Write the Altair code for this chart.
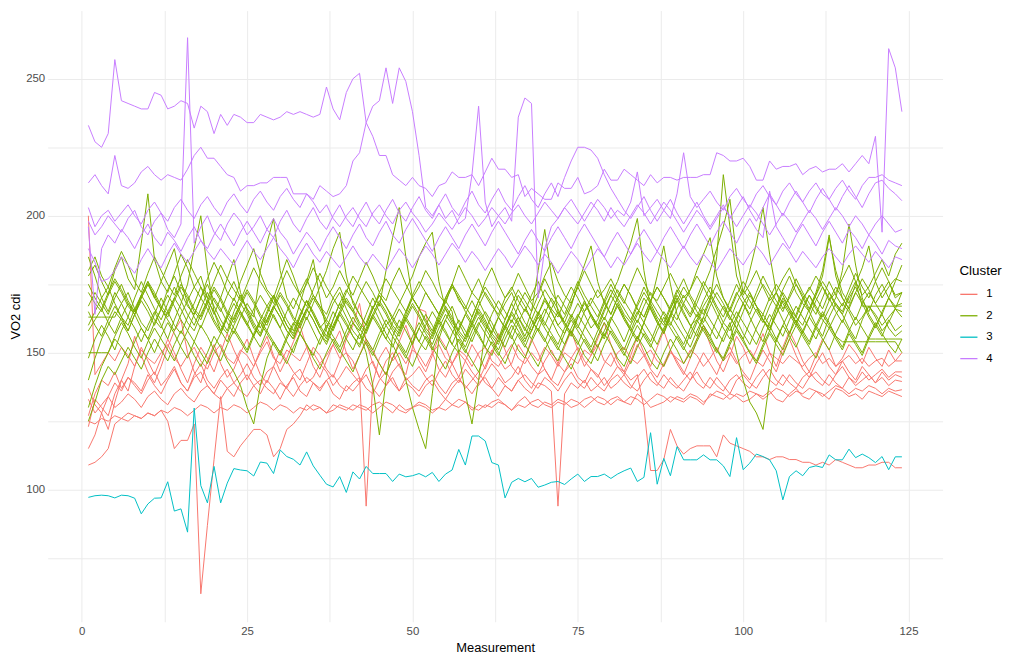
import altair as alt
import pandas as pd

clusters = ["1", "2", "3", "4"]
cluster_colors = ["#F8766D", "#7CAE00", "#00BFC4", "#C77CFF"]
x_grid = [0, 12.5, 25, 37.5, 50, 62.5, 75, 87.5, 100, 112.5, 125]
y_grid = [75, 100, 125, 150, 175, 200, 225, 250]

# ---------------- Cluster 1 (red) ----------------
r1 = [109,110,112,115,124,126,125,127,126,128,
      127,129,125,115,118,118,124,62,87,111,
      134,114,112,116,119,122,122,120,112,115,
      122,124,127,131,129,130,128,131,130,129,
      131,130,129,131,132,130,128,131,129,130,
      132,131,129,130,133,131,130,132,129,131,
      130,132,133,131,129,132,134,131,130,132,
      131,133,132,130,131,133,134,132,131,133,
      134,132,131,135,133,130,131,132,134,133,
      132,134,133,131,135,134,133,135,134,132,
      133,135,134,136,133,132,135,137,134,133,
      136,135,133,137,136,134,135,133,136,135,
      134,136,135,134]
r2 = [137,131,128,134,139,136,141,138,135,140,
      143,138,141,145,139,136,142,146,140,137,
      141,144,139,142,146,141,138,143,145,140,
      137,142,144,139,141,146,143,138,141,145,
      142,139,144,147,141,138,143,146,140,142,
      145,141,138,143,147,142,139,144,141,138,
      142,146,143,139,141,145,140,137,142,144,
      140,138,143,146,141,139,144,142,138,141,
      145,143,140,142,
      130,107,107,111,122,116,113,115,116,116,
      116,112,120,117,116,115,114,112,112,111,
      112,112,111,111,110,110,109,110,109,111,
      110,109,108,108,109,109,110,110,108,108]
r3 = [200,142,146,150,147,152,149,145,151,148,
      146,150,153,148,145,149,152,147,144,150,
      153,148,146,151,149,145,150,154,148,146,
      151,149,147,152,150,146,149,153,148,150,
      147,141,94,139,148,152,147,150,146,151,
      149,145,150,153,148,146,151,149,145,150,
      152,147,145,149,153,148,146,150,147,152,
      149,145,150,148,146,151,149,153,147,145,
      150,152,148,146,149,151,147,145,150,148,
      146,151,149,145,148,152,147,150,146,149,
      151,147,145,150,148,146,149,147,145,148,
      150,146,148,145,147,149,146,148,145,147,
      148,145,147,147]
r4 = [127,135,140,138,143,137,141,139,136,142,
      138,135,140,144,139,136,141,143,138,135,
      140,137,134,139,142,138,135,140,137,133,
      138,141,136,134,139,137,140,135,133,138,
      136,139,142,137,134,138,141,136,139,137,
      134,138,140,136,133,137,140,138,135,139,
      141,137,134,138,136,140,137,135,139,138,
      136,94,135,139,137,140,136,138,141,137,
      139,142,138,136,140,143,139,137,141,138,
      136,140,143,139,137,141,138,135,140,142,
      139,137,141,144,140,138,142,139,137,141,
      143,140,138,142,145,141,139,143,140,142,
      144,141,143,143]
r5 = [123,133,130,127,135,140,146,156,149,143,
      139,145,152,158,162,150,143,139,147,153,
      146,141,144,150,155,148,142,139,145,151,
      147,143,140,146,152,149,144,141,147,155,
      160,168,154,146,141,147,150,145,142,152,
      166,165,150,144,141,146,150,147,143,140,
      145,151,148,144,146,153,149,145,142,147,
      151,146,143,148,152,147,144,141,146,150,
      145,142,147,153,149,144,141,146,151,147,
      143,140,145,150,146,142,148,152,147,143,
      140,146,151,147,143,150,155,149,144,141,
      146,150,145,142,147,143,140,145,142,139,
      143,140,142,141]
r6 = [133,128,131,134,130,132,135,133,130,134,
      136,133,131,135,137,134,132,136,138,135,
      133,137,139,136,134,138,140,137,135,139,
      137,134,138,141,139,136,140,142,138,136,
      139,141,137,135,140,143,139,136,141,138,
      136,140,142,138,135,139,141,137,140,143,
      139,137,141,138,136,140,142,139,137,141,
      139,136,140,143,139,137,141,138,136,140,
      142,139,137,141,144,140,138,142,139,137,
      140,143,139,137,141,138,136,140,142,139,
      137,141,144,140,138,142,139,137,141,143,
      140,138,142,139,137,141,138,140,142,139,
      141,138,140,139.5]
r7 = [125,124,126,125,127,126,128,127,126,128,
      127,129,128,130,129,127,129,131,130,128,
      130,129,131,130,128,130,132,131,129,131,
      130,128,130,129,131,130,128,129,131,130,
      129,131,130,128,130,132,131,129,128,130,
      131,130,128,130,129,131,133,132,130,129,
      131,130,132,131,129,131,130,132,133,131,
      130,132,131,133,132,130,132,134,133,131,
      133,132,134,133,131,133,135,134,132,134,
      133,135,134,132,134,136,135,133,135,134,
      136,135,133,135,137,136,134,136,135,137,
      136,134,136,138,137,135,137,136,138,137,
      135,137,136,136.5]
r8 = [115,120,128,122,132,140,136,145,152,147,
      142,148,155,150,144,139,146,152,148,143,
      150,157,151,146,140,145,151,156,149,143,
      148,154,160,152,145,141,147,153,158,150,
      144,149,155,151,146,142,148,154,160,153,
      147,143,149,156,152,146,141,147,153,149,
      144,150,157,151,145,142,148,155,150,144,
      140,146,152,158,151,145,149,155,161,153,
      147,143,149,156,150,145,152,158,151,146,
      142,148,155,160,153,147,143,149,156,152,
      146,151,157,150,145,152,158,153,147,143,
      149,155,151,145,148,153,150,146,152,148,
      145,151,147,150]

# ---------------- Cluster 2 (green) ----------------
g1 = [178,182,176,171,180,185,177,173,190,208,
      184,176,172,179,186,181,174,170,177,183,
      178,172,169,176,182,188,179,173,170,177,
      184,178,171,175,181,176,170,174,180,175,
      171,177,183,178,172,169,176,181,175,170,
      174,180,176,171,168,175,182,177,172,169,
      176,181,175,170,173,179,174,169,172,178,
      183,176,171,168,174,180,175,170,173,177,
      172,168,175,181,176,171,169,174,179,174,
      170,173,178,174,169,185,215,196,178,171,
      175,180,174,169,172,177,181,175,170,173,
      178,174,169,172,177,182,176,171,174,179,
      184,178,186,190]
g2 = [167,172,168,164,170,175,169,165,171,176,
      170,166,173,178,172,167,164,170,175,169,
      165,171,176,170,166,163,180,190,199,180,
      170,166,172,177,171,167,164,170,174,168,
      165,171,176,172,167,180,192,203,185,170,
      166,172,168,164,170,175,169,166,172,177,
      171,167,164,170,174,169,165,171,176,170,
      166,163,169,174,170,165,168,173,169,164,
      170,175,171,166,163,169,174,170,166,172,
      177,171,167,164,170,175,170,166,172,168,
      164,170,175,171,167,173,178,172,168,165,
      171,176,172,167,164,170,174,169,165,171,
      175,170,176,182]
g3 = [163,163,163,163,163,168,172,166,161,158,
      164,170,165,160,157,163,168,174,168,162,
      158,164,170,165,160,156,162,167,171,165,
      160,157,163,169,164,159,162,168,172,166,
      161,158,164,170,165,160,163,168,173,178,
      185,190,194,176,166,161,158,164,169,164,
      160,157,163,168,172,166,161,158,164,170,
      165,160,163,168,174,169,163,159,165,171,
      176,183,190,199,180,166,161,158,164,169,
      164,160,162,167,171,166,161,158,163,168,
      172,167,162,159,164,169,165,161,166,171,
      166,162,159,164,168,165,160,163,167,164,
      160,163,166,165]
g4 = [148,155,160,156,151,158,163,159,154,160,
      165,160,155,162,168,175,188,200,180,165,
      158,154,160,165,161,156,152,158,164,159,
      154,150,157,163,158,153,159,165,161,155,
      151,157,150,138,120,140,156,162,158,153,
      159,164,160,155,151,157,162,158,154,160,
      165,161,156,152,158,163,159,155,161,166,
      162,157,153,159,164,160,156,152,158,163,
      159,154,160,165,161,157,153,159,164,160,
      156,152,158,163,159,155,161,166,162,157,
      153,159,164,160,155,151,157,162,158,154,
      160,165,161,156,152,158,163,159,155,160,
      164,159,156,158]
g5 = [185,178,170,165,172,168,163,170,176,171,
      166,162,168,174,169,164,160,166,172,167,
      162,158,165,171,166,161,157,164,170,165,
      160,156,163,169,164,159,155,162,168,163,
      158,155,161,167,162,157,153,148,140,130,
      122,115,135,155,162,167,161,156,163,169,
      164,159,155,162,168,163,158,165,180,195,
      178,165,160,156,163,169,164,159,155,162,
      168,163,158,154,161,167,162,157,164,170,
      165,160,156,163,169,164,159,155,162,168,
      163,158,154,161,167,162,157,164,170,165,
      160,156,163,168,164,159,155,162,167,163,
      158,161,166,163]
g6 = [140,148,155,160,165,162,158,164,169,165,
      160,166,171,167,162,158,164,170,166,161,
      157,163,168,164,160,166,171,167,163,159,
      165,170,166,162,168,174,180,188,194,178,
      168,164,160,166,171,167,163,159,165,170,
      166,162,158,164,169,165,150,135,124,140,
      158,164,169,165,161,167,172,168,164,160,
      166,171,167,163,159,165,170,166,162,168,
      173,169,165,161,167,172,168,164,160,166,
      171,167,163,169,174,170,166,162,168,173,
      169,165,161,167,172,168,164,160,166,171,
      167,163,169,174,170,166,162,168,172,168,
      164,170,167,168]
g7 = [130,138,145,150,155,152,148,154,159,155,
      150,156,161,157,152,148,154,160,156,151,
      147,153,158,154,150,156,161,157,153,149,
      155,160,168,176,184,170,158,154,150,156,
      161,157,153,149,155,160,156,152,148,154,
      159,155,151,157,162,158,154,150,156,161,
      157,153,149,155,160,156,152,158,163,159,
      155,151,157,162,158,154,150,156,161,157,
      153,149,155,160,156,152,158,163,159,155,
      151,157,162,158,154,150,156,161,150,140,
      132,128,122,140,155,160,156,152,158,163,
      159,155,151,157,162,158,154,150,156,161,
      157,153,150,155]
g8 = [172,168,165,171,176,172,167,164,170,175,
      171,166,163,169,174,170,165,162,168,173,
      169,164,161,167,172,168,163,160,166,171,
      167,162,159,165,170,166,161,158,164,169,
      165,160,157,163,168,164,159,156,162,167,
      163,158,155,161,166,162,157,154,160,165,
      161,156,153,159,164,160,155,158,164,169,
      165,160,157,163,168,164,159,162,168,173,
      169,164,161,167,172,168,163,160,166,171,
      167,163,168,174,180,188,196,206,185,172,
      180,190,203,186,172,166,170,175,171,166,
      172,180,193,178,170,166,172,177,173,168,
      172,176,171,172]
g9 = [158,162,166,161,157,163,168,164,159,155,
      161,166,162,158,164,169,174,178,170,164,
      170,177,184,172,165,160,156,162,167,163,
      158,155,161,166,162,157,153,159,164,160,
      156,152,158,163,159,155,161,166,162,158,
      154,160,165,161,157,153,159,164,160,156,
      152,158,163,159,155,161,166,162,158,154,
      160,165,161,157,153,159,164,160,156,162,
      167,163,159,155,161,168,178,189,175,164,
      159,155,161,166,162,158,154,160,165,161,
      157,153,159,164,160,156,162,167,163,159,
      155,161,166,170,180,197,182,170,164,160,
      156,162,158,160]
g10 = [175,170,166,172,177,173,168,165,171,176,
       172,167,164,170,175,171,166,163,169,174,
       170,165,162,168,173,169,164,161,167,172,
       168,163,160,166,171,167,162,159,165,170,
       166,161,158,164,169,165,160,157,163,168,
       164,159,156,162,167,163,158,155,161,166,
       162,157,154,160,165,161,156,162,168,173,
       169,164,161,167,175,182,189,176,168,164,
       170,175,171,166,163,169,174,170,165,162,
       168,173,180,186,192,178,170,165,171,176,
       172,167,164,170,175,171,166,163,169,174,
       170,166,172,168,165,171,176,167,167,167,
       167,167,167,167]
g11 = [160,165,170,174,168,163,160,166,171,167,
       162,159,165,170,166,161,158,164,169,165,
       160,157,163,168,164,159,156,162,167,163,
       158,155,161,166,162,157,154,160,165,161,
       156,153,159,164,160,155,152,158,163,159,
       154,151,157,162,158,153,150,156,161,157,
       152,149,155,160,156,151,148,154,159,155,
       150,147,153,158,154,149,146,152,157,153,
       148,145,151,156,152,147,144,150,155,151,
       146,150,155,160,156,151,148,154,159,155,
       150,147,153,158,166,172,168,163,160,166,
       171,178,192,180,172,168,175,181,189,176,
       170,174,177,176]
g12 = [125,132,140,145,142,147,152,148,144,150,
       155,151,147,153,158,154,149,145,150,156,
       152,147,143,138,130,124,138,148,154,150,
       146,152,157,153,148,144,150,155,151,147,
       143,149,154,150,146,142,148,153,149,145,
       151,156,152,148,144,150,155,151,147,143,
       149,154,150,146,152,157,153,149,145,151,
       156,152,148,144,150,155,151,147,153,158,
       154,150,146,152,157,153,149,145,151,156,
       152,148,154,159,155,151,147,153,158,154,
       150,146,152,157,153,149,155,160,156,152,
       148,154,159,155,151,157,153,149,155,155,
       155,155,155,155]
g13 = [165,160,156,162,167,163,158,164,170,175,
       170,176,182,188,176,168,163,159,165,170,
       166,161,157,163,168,164,159,165,171,167,
       162,158,164,169,165,160,156,162,168,173,
       169,164,160,166,171,167,162,158,164,170,
       166,161,157,163,169,174,170,165,161,167,
       172,168,163,159,165,171,167,162,158,164,
       170,166,161,157,163,168,164,160,166,171,
       167,162,158,164,170,166,161,157,163,169,
       174,170,165,161,167,172,168,163,159,165,
       171,167,162,158,164,170,166,161,157,163,
       169,174,170,165,161,167,172,168,163,159,
       165,170,166,172]
g14 = [180,185,178,174,181,187,182,176,172,179,
       185,180,175,171,178,184,179,174,170,176,
       182,177,173,169,175,181,176,172,168,174,
       180,175,171,167,173,179,174,170,166,172,
       178,174,170,166,172,177,173,169,165,171,
       176,172,168,164,170,175,171,167,163,169,
       174,170,166,162,168,173,169,165,171,177,
       172,168,164,170,176,171,167,163,169,175,
       170,166,162,168,174,169,165,161,167,173,
       168,164,170,176,172,167,163,169,175,170,
       166,172,178,173,169,165,171,177,172,168,
       164,170,176,171,167,173,179,174,170,176,
       181,176,170,172]
g15 = [150,150,150,150,156,161,157,152,148,154,
       159,155,151,147,153,158,154,150,146,152,
       157,163,159,155,151,157,162,158,154,150,
       156,161,157,153,149,155,160,156,152,158,
       163,159,155,151,157,162,158,154,150,156,
       161,157,153,159,164,160,156,152,158,163,
       159,155,151,157,162,158,154,160,165,161,
       157,153,159,164,160,156,152,158,163,159,
       155,151,157,162,158,154,160,165,161,157,
       153,159,164,160,156,162,167,163,159,155,
       161,166,162,158,154,160,165,161,157,153,
       159,164,160,156,154,154,154,154,154,154,
       154,154,154,150]

# ---------------- Cluster 3 (teal) ----------------
t1 = [97.2,97.8,98,97.8,97,98,97.8,96.9,91.2,94.8,
      96.9,97,102.9,92.2,93,84.5,129.8,101.5,95.2,108.5,
      95.2,102.4,107.7,107.2,106.9,105,110.1,109.7,105.9,114.5,
      112.1,111.1,109,113.8,108.7,105.3,102,101,104.8,99,
      106.5,103.9,108.5,105.9,105.9,105.9,103,105.7,104.7,105.1,
      105.9,104.7,106.3,103,105.7,107.2,114.7,109,119.6,119.6,
      117.8,109.9,109,97,102.7,104.1,102.9,104.1,100.9,101.7,
      102.7,103,101.9,103.9,105.7,103,104.8,104.8,105.7,104.1,
      105.7,106.9,107.9,103,104.5,120.8,102,111.4,105.1,115.7,
      110.9,110.9,110.9,112.7,110.9,110.9,108.7,104.8,119,107.3,
      109.7,113,112.1,110.9,106.9,96.3,104.8,106.9,105.1,108.1,
      108.7,108.1,112.7,110.9,110.9,114.8,111.7,113,111.7,109.9,
      112.1,107.3,112,112]

# ---------------- Cluster 4 (purple) ----------------
p1 = [233,227,225,230,257,242,241,240,239,239,
      245,244,239,240,242,241,232,240,238,230,
      237,233,237,236,234,234,237,236,235,236,
      238,237,238,237,236,237,247,239,235,245,
      250,252,234,229,222,222,215,213,211,214,
      211,210,207,211,212,216,214,214,215,211,
      216,221,217,217,214,215,207,210,208,206,
      206,212,210,210,214,208,209,211,217,213,
      213,217,215,213,211,215,212,214,214,213,
      214,214,214,215,215,223,222,220,220,221,
      218,213,213,220,217,218,218,219,215,217,
      218,216,217,217,219,216,219,222,219,229,
      194,261,254,238]
p2 = [212,215,211,208,222,211,210,212,216,218,
      215,213,215,214,213,217,222,225,221,221,
      218,215,214,209,211,211,212,212,214,214,
      214,208,208,208,206,211,209,207,208,211,
      220,223,234,240,242,254,241,254,249,238,
      222,203,200,204,199,202,197,199,215,240,
      205,196,200,203,198,236,243,241,170,188,
      196,199,203,200,197,201,205,202,198,203,
      199,196,200,204,201,197,201,205,202,198,
      194,198,202,199,195,199,203,200,196,200,
      204,201,197,193,197,201,198,194,198,202,
      199,195,199,203,200,196,200,197,193,197,
      200,197,194,195]
p3 = [198,193,196,200,197,194,199,202,196,193,
      198,201,195,192,197,265,190,196,200,194,
      191,197,201,198,193,196,200,195,192,198,
      202,197,194,199,203,198,195,200,204,199,
      196,201,205,200,197,202,206,201,198,203,
      207,202,199,204,208,203,200,205,209,204,
      201,206,210,205,202,207,211,206,203,208,
      212,207,214,220,225,225,224,221,215,210,
      206,202,199,203,207,202,198,202,206,201,
      197,201,205,200,196,200,204,199,203,207,
      202,198,203,208,204,200,205,209,205,201,
      206,210,206,202,207,211,207,203,208,212,
      213,210,208,205.5]
p4 = [203,196,200,202,198,201,204,200,197,202,
      205,201,198,203,206,202,199,204,207,203,
      200,205,208,204,201,206,209,205,202,207,
      210,206,203,208,205,201,204,199,196,200,
      203,199,196,201,204,200,197,202,205,201,
      198,194,197,201,198,195,199,203,200,196,
      199,203,200,197,201,204,200,197,201,205,
      202,199,203,206,202,198,202,206,203,199,
      202,200,205,216,200,203,206,202,199,208,
      223,207,203,206,209,205,202,207,210,206,
      203,208,211,207,204,209,212,208,205,209,
      212,208,206,210,213,209,206,211,214,214,
      215,213,212,211]
p5 = [196,164,188,193,190,195,192,188,193,197,
      192,189,194,191,187,192,196,191,188,193,
      197,193,189,194,198,194,190,195,199,194,
      191,186,190,194,191,187,192,196,192,188,
      193,197,192,189,194,198,193,190,195,199,
      195,191,187,192,196,192,188,193,197,193,
      189,194,198,194,190,186,191,195,191,187,
      192,196,192,188,193,197,193,189,185,190,
      194,190,186,191,195,191,187,192,196,192,
      188,193,197,193,189,194,198,194,190,195,
      199,195,192,209,196,192,188,193,197,193,
      189,194,198,194,190,195,192,188,193,190,
      186,191,189,188]
p6 = [188,183,176,177,180,185,182,179,184,188,
      184,181,186,190,186,183,187,191,187,184,
      188,185,182,187,191,187,184,188,192,188,
      185,181,186,190,186,183,187,184,181,185,
      189,185,182,186,183,180,184,188,185,181,
      185,189,186,182,186,190,187,183,187,184,
      180,184,188,185,181,185,189,186,182,186,
      183,179,183,187,184,180,184,188,185,181,
      185,182,186,190,186,183,187,184,181,185,
      189,185,182,186,183,180,184,188,185,182,
      186,189,186,182,186,190,187,183,187,184,
      181,185,188,185,182,186,189,186,183,187,
      184,181,185,184]

series = [
    ("1", [r1, r2, r3, r4, r5, r6, r7, r8]),
    ("2", [g1, g2, g3, g4, g5, g6, g7, g8, g9, g10, g11, g12, g13, g14, g15]),
    ("3", [t1]),
    ("4", [p1, p2, p3, p4, p5, p6]),
]

rows = []
for cl, lines in series:
    for i, vals in enumerate(lines):
        for j, v in enumerate(vals):
            rows.append({"id": f"{cl}-{i}", "Cluster": cl, "Measurement": j + 1, "VO2": v})
df = pd.DataFrame(rows)

FONT = "Liberation Sans"

chart = alt.Chart(df).mark_line(strokeWidth=1).encode(
    x=alt.X("Measurement:Q",
            scale=alt.Scale(domain=[-5.15, 130.15], nice=False, zero=False),
            axis=alt.Axis(values=x_grid, title="Measurement",
                          labelExpr="datum.value % 25 === 0 ? datum.label : ''",
                          labelOverlap=False, labelPadding=4, titlePadding=5)),
    y=alt.Y("VO2:Q",
            scale=alt.Scale(domain=[51.8, 274.9], nice=False, zero=False),
            axis=alt.Axis(values=y_grid, title="VO2 cdi",
                          labelExpr="datum.value % 50 === 0 ? datum.label : ''",
                          labelOverlap=False, labelPadding=3, titlePadding=3)),
    color=alt.Color("Cluster:N",
                    scale=alt.Scale(domain=clusters, range=cluster_colors),
                    legend=alt.Legend(title="Cluster", orient="none", legendX=919, legendY=256,
                                      symbolType="stroke", symbolSize=300, symbolStrokeWidth=1.3,
                                      labelFontSize=11.5, titleFontSize=13.5, titleFontWeight="normal",
                                      titleColor="black", labelColor="black", labelFont=FONT,
                                      titleFont=FONT, rowPadding=6.6, labelOffset=8, titlePadding=7)),
    detail="id:N",
).properties(
    width=902,
    height=616,
    autosize=alt.AutoSizeParams(type="none"),
    padding={"left": 40, "top": 0, "right": 74, "bottom": 40},
    background="white",
).configure_view(stroke=None).configure_axis(
    grid=True, gridColor="#EBEBEB", gridWidth=1, domain=False, ticks=False,
    labelFont=FONT, titleFont=FONT, labelFontSize=11.5, labelColor="#4D4D4D",
    titleFontSize=13, titleFontWeight="normal", titleColor="black",
)

chart.save("out.html", embed_options={"renderer": "svg", "actions": False})
